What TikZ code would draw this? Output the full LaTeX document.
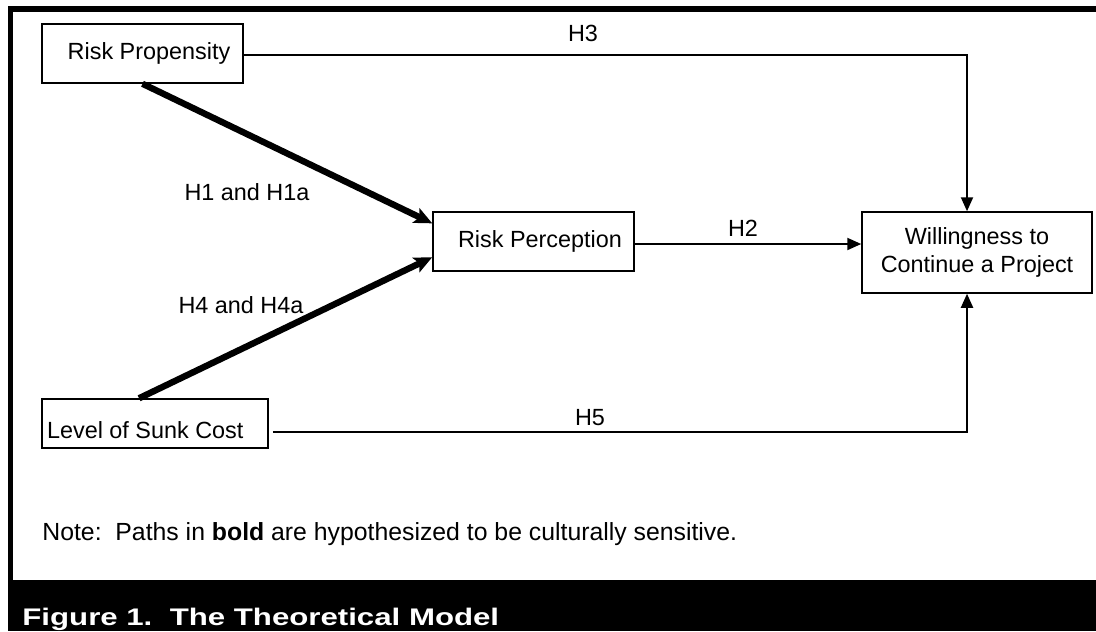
\documentclass[tikz,border=0pt]{standalone}
\usepackage{graphicx}
\usepackage{fontspec}
\setmainfont{Liberation Sans}
\usepackage{tikz}
\usetikzlibrary{arrows.meta, positioning, calc}

\begin{document}
\begin{tikzpicture}[
  x=0.5pt, y=-0.5pt,
  font=\fontsize{11.7pt}{14pt}\selectfont,
  box/.style={draw, line width=0.75pt, minimum width=100.5pt, minimum height=29.5pt,
              inner sep=0pt, align=center},
  a/.style={-{Triangle[length=7pt, width=6pt]}, line width=1pt},
  boldpath/.style={-{Stealth[length=9pt, width=8pt, inset=2pt]}, line width=3.2pt},
  lbl/.style={inner sep=0pt}
]
\useasboundingbox (0,0) rectangle (1096,631);
% frame and caption band
\fill (8,6) rectangle (1096,12);
\fill (8,6) rectangle (13,580);
\fill (8,580) rectangle (1096,631);
\node[lbl, anchor=base west, text=white] (caption) at (22,625)
  {\scalebox{1.3}[1]{\fontsize{12pt}{14pt}\selectfont\bfseries Figure 1.\ \ The Theoretical Model}};

% constructs
\node[box] (prop) at (142.5,53.5) {\hspace{6.5pt}Risk Propensity};
\node[box] (perc) at (533.5,241.5) {\ \ Risk Perception};
\node[box, minimum width=115pt, minimum height=40.5pt] (will) at (977,252.5) {Willingness to\\Continue a Project};
\node[box, minimum width=113pt, minimum height=24.5pt, text height=14.9pt, text depth=0pt] (sunk) at (155,423.5) {Level of Sunk Cost\ \ \ };

% paths
\draw[boldpath] (prop.south) -- ($(perc.north west)!0.2!(perc.south west)$);
\draw[boldpath] ($(sunk.north west)!0.43!(sunk.north east)$) -- ($(perc.north west)!0.76!(perc.south west)$);
\draw[a] ([yshift=-1pt]prop.east) -| ([xshift=-5pt]will.north);
\draw[a] ([yshift=-1.25pt]perc.east) -- ([yshift=-1.25pt]perc.east -| will.west);
\draw[a] ([xshift=2pt, yshift=-4.25pt]sunk.east) -| ([xshift=-5pt]will.south);

% labels
\node[lbl] (h1) at (247,192) {H1 and H1a};
\node[lbl] (h4) at (241,305) {H4 and H4a};
\node[lbl] (h3) at (583,33) {H3};
\node[lbl] (h2) at (743,228) {H2};
\node[lbl] (h5) at (590,418) {H5};

\node[lbl, anchor=west, font=\fontsize{12.4pt}{14pt}\selectfont] (note) at (42,534)
  {Note:\ \ Paths in \textbf{bold} are hypothesized to be culturally sensitive.};
\end{tikzpicture}
\end{document}
